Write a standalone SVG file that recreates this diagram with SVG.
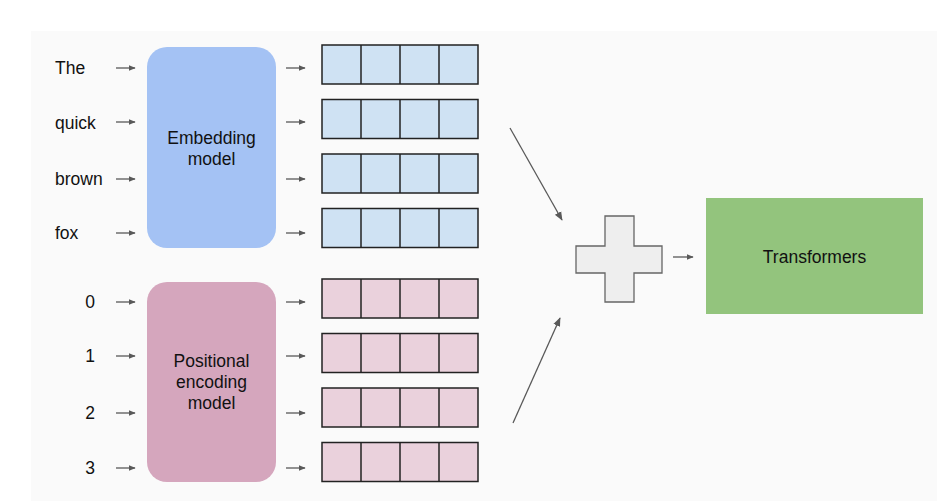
<svg xmlns="http://www.w3.org/2000/svg" width="942" height="504" viewBox="0 0 942 504">
<defs>
<marker id="ah" viewBox="0 0 10 10" refX="9" refY="5" markerWidth="7" markerHeight="7" markerUnits="userSpaceOnUse" orient="auto">
<path d="M0,1 L10,5 L0,9 Z" fill="#595959"/>
</marker>
<marker id="ahL" viewBox="0 0 10 10" refX="9" refY="5" markerWidth="9" markerHeight="9" markerUnits="userSpaceOnUse" orient="auto">
<path d="M0,1 L10,5 L0,9 Z" fill="#595959"/>
</marker>
<g id="vecB">
<rect x="0" y="0" width="156" height="39" fill="#cfe2f3" stroke="#222" stroke-width="1.5"/>
<line x1="39" y1="0" x2="39" y2="39" stroke="#222" stroke-width="1.5"/>
<line x1="78" y1="0" x2="78" y2="39" stroke="#222" stroke-width="1.5"/>
<line x1="117" y1="0" x2="117" y2="39" stroke="#222" stroke-width="1.5"/>
</g>
<g id="vecP">
<rect x="0" y="0" width="156" height="39" fill="#ead1dc" stroke="#222" stroke-width="1.5"/>
<line x1="39" y1="0" x2="39" y2="39" stroke="#222" stroke-width="1.5"/>
<line x1="78" y1="0" x2="78" y2="39" stroke="#222" stroke-width="1.5"/>
<line x1="117" y1="0" x2="117" y2="39" stroke="#222" stroke-width="1.5"/>
</g>
</defs>
<style>
text{font-family:"Liberation Sans",Arial,sans-serif;font-size:17.5px;fill:#111}
.lbl{font-size:17.5px}
.c{stroke:#595959;stroke-width:1.3;fill:none;marker-end:url(#ah)}
.d{stroke:#595959;stroke-width:1.3;fill:none;marker-end:url(#ahL)}
</style>
<rect width="942" height="504" fill="#ffffff"/>
<rect x="31" y="31" width="906" height="470" fill="#fafafa"/>

<g id="words">
<text x="55" y="74">The</text>
<text x="55" y="129">quick</text>
<text x="55" y="185">brown</text>
<text x="55" y="239">fox</text>
</g>
<g id="positions" text-anchor="middle">
<text x="90" y="308">0</text>
<text x="90" y="362">1</text>
<text x="90" y="419">2</text>
<text x="90" y="474">3</text>
</g>

<g id="embedding">
<rect x="147" y="47" width="129" height="201" rx="20" fill="#a4c2f4"/>
<text x="211.5" y="144" text-anchor="middle">Embedding</text>
<text x="211.5" y="165" text-anchor="middle">model</text>
</g>
<g id="positional">
<rect x="147" y="282" width="129" height="200" rx="20" fill="#d5a6bd"/>
<text x="211.5" y="367" text-anchor="middle">Positional</text>
<text x="211.5" y="388" text-anchor="middle">encoding</text>
<text x="211.5" y="409" text-anchor="middle">model</text>
</g>

<g id="embed-vectors">
<use href="#vecB" x="322" y="45"/>
<use href="#vecB" x="322" y="99.5"/>
<use href="#vecB" x="322" y="154"/>
<use href="#vecB" x="322" y="208.5"/>
</g>
<g id="pos-vectors">
<use href="#vecP" x="322" y="279"/>
<use href="#vecP" x="322" y="333.5"/>
<use href="#vecP" x="322" y="388"/>
<use href="#vecP" x="322" y="442.5"/>
</g>

<g id="plus">
<path d="M605,216 H634 V246 H662 V273 H634 V302 H605 V273 H576 V246 H605 Z" fill="#eeeeee" stroke="#666" stroke-width="1.3"/>
</g>

<g id="transformers">
<rect x="706" y="198" width="217" height="116" fill="#93c47d"/>
<text x="814.5" y="263" text-anchor="middle">Transformers</text>
</g>

<g id="connectors">
<line class="c" x1="116" y1="68" x2="135" y2="68"/>
<line class="c" x1="116" y1="122" x2="135" y2="122"/>
<line class="c" x1="116" y1="179" x2="135" y2="179"/>
<line class="c" x1="116" y1="233" x2="135" y2="233"/>
<line class="c" x1="116" y1="302" x2="135" y2="302"/>
<line class="c" x1="116" y1="356" x2="135" y2="356"/>
<line class="c" x1="116" y1="413" x2="135" y2="413"/>
<line class="c" x1="116" y1="468" x2="135" y2="468"/>
<line class="c" x1="286" y1="68" x2="305" y2="68"/>
<line class="c" x1="286" y1="122" x2="305" y2="122"/>
<line class="c" x1="286" y1="179" x2="305" y2="179"/>
<line class="c" x1="286" y1="233" x2="305" y2="233"/>
<line class="c" x1="286" y1="302" x2="305" y2="302"/>
<line class="c" x1="286" y1="356" x2="305" y2="356"/>
<line class="c" x1="286" y1="413" x2="305" y2="413"/>
<line class="c" x1="286" y1="468" x2="305" y2="468"/>
<line class="d" x1="510" y1="128" x2="562" y2="220"/>
<line class="d" x1="513" y1="423" x2="560" y2="318"/>
<line class="c" x1="673" y1="257" x2="693" y2="257"/>
</g>
</svg>
